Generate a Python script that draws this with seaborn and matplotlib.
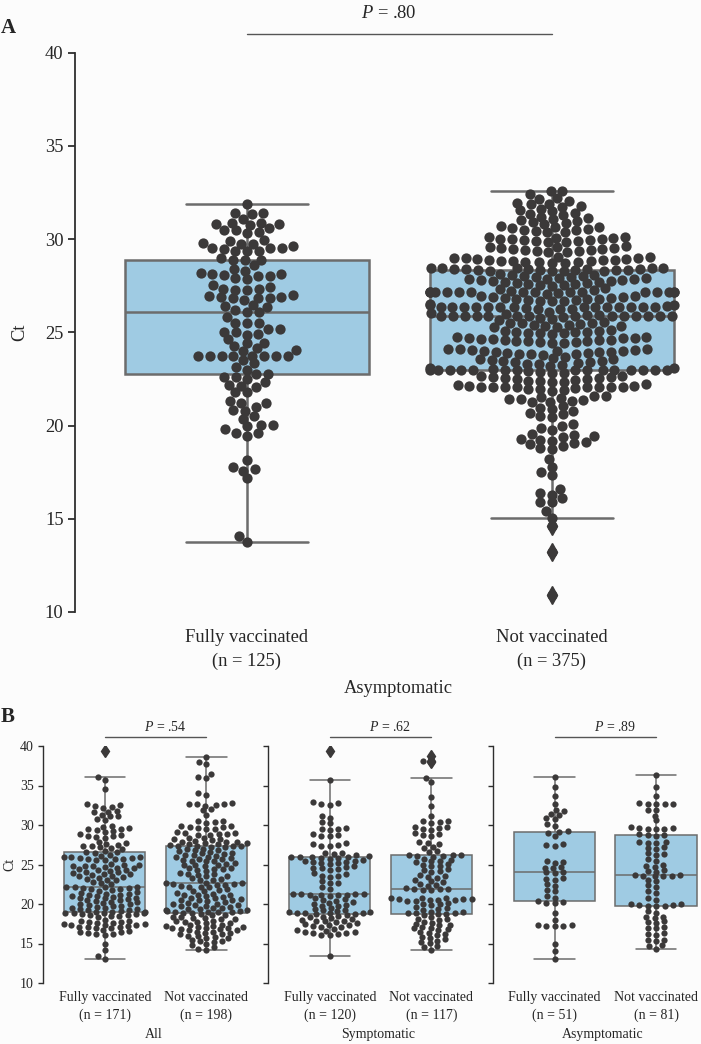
import warnings
warnings.filterwarnings("ignore")
import numpy as np
import pandas as pd
import matplotlib
matplotlib.use("Agg")
import matplotlib.pyplot as plt
import seaborn as sns

# ---------------- data (Ct values) ----------------
GROUPS = ["Fully vaccinated", "Not vaccinated"]

# Panel A (n = 125 / n = 375)
a_fully = [31.86,
           31.41, 31.38, 31.32,
           31.06, 30.88, 30.88, 30.79, 30.79, 30.74, 30.57, 30.49, 30.49, 30.38, 30.34,
           29.93, 29.90, 29.81, 29.75, 29.72, 29.63, 29.54, 29.54, 29.50, 29.49, 29.36, 29.36, 29.36,
           28.97, 28.90, 28.88, 28.86, 28.59, 28.38, 28.29,
           28.20, 28.15, 28.11, 28.08, 28.02, 27.99, 27.93, 27.88,
           27.52, 27.40, 27.31, 27.31, 27.25, 27.25, 26.99, 26.95, 26.91, 26.90, 26.82, 26.82, 26.82, 26.74,
           26.45, 26.41, 26.38, 26.20, 26.09, 26.09,
           25.83, 25.52, 25.52, 25.52,
           25.20, 25.16, 25.02, 24.99, 24.93, 24.84, 24.63,
           24.45, 24.40, 24.27, 24.13,
           24.06, 24.00, 23.75, 23.75, 23.75, 23.75, 23.75, 23.75, 23.75, 23.75, 23.50,
           23.33, 23.11, 22.99, 22.75, 22.75, 22.61, 22.61, 22.49,
           22.31, 22.18, 22.13, 22.04, 21.77, 21.77,
           21.33, 21.18, 21.18, 20.97, 20.83,
           20.79, 20.52, 20.37,
           20.02, 20.02, 19.98, 19.80, 19.62, 19.62, 19.45,
           18.16,
           17.79, 17.66, 17.57, 17.18,
           14.09, 13.77]

a_not = [32.57, 32.55, 32.40,
         32.20, 32.15, 32.05, 31.95, 31.90, 31.85, 31.75, 31.70, 31.62, 31.55, 31.50,
         31.40, 31.35, 31.28, 31.20, 31.15, 31.08, 31.00, 30.95, 30.90, 30.85, 30.80,
         30.70, 30.66, 30.62, 30.58, 30.55, 30.50, 30.46, 30.42, 30.38, 30.35,
         30.12, 30.10, 30.08, 30.05, 30.02, 30.00, 29.98, 29.95, 29.92, 29.90, 29.88, 29.85, 29.82,
         29.62, 29.58, 29.55, 29.52, 29.50, 29.47, 29.45, 29.42, 29.40, 29.37, 29.35, 29.32, 29.30,
         29.05, 29.03, 29.00, 28.98, 28.96, 28.94, 28.92, 28.90, 28.88, 28.86, 28.84, 28.82, 28.80,
         28.78, 28.76, 28.74, 28.72, 28.70,
         28.46, 28.45, 28.44, 28.43, 28.42, 28.41, 28.40, 28.39, 28.38, 28.37, 28.36, 28.35, 28.34,
         28.33, 28.32, 28.31, 28.30, 28.29, 28.28,
         28.10, 28.08, 28.05, 28.03, 28.00, 27.98, 27.95, 27.93, 27.90, 27.88, 27.85, 27.83, 27.80,
         27.78, 27.75, 27.73, 27.70, 27.68, 27.65, 27.63, 27.60, 27.58, 27.55, 27.53, 27.50,
         27.35, 27.30, 27.25, 27.20, *([27.15] * 16), 27.10, 27.05,
         26.95, 26.93, 26.90, 26.88, 26.85, 26.83, 26.80, 26.78, 26.76, 26.74, 26.72, 26.70, 26.69, 26.68,
         26.50, 26.47, 26.44, 26.41, *([26.35] * 14), 26.30, 26.27, 26.25, 26.23,
         26.10, 26.05, 26.00, 25.95, 25.90, *([25.85] * 14), 25.80, 25.75, 25.70, 25.65,
         25.55, 25.52, 25.50, 25.47, 25.44, 25.41, 25.38, 25.35, 25.32, 25.29, 25.26,
         25.10, 25.08, 25.06, 25.04, 25.02, 25.00, 24.98, 24.96, 24.94, 24.92,
         24.75, 24.73, 24.71, 24.69, 24.67, 24.65, 24.63, 24.61, 24.59, 24.57, 24.55, 24.53, 24.51,
         24.49, 24.47, 24.45, 24.43,
         24.12, 24.10, 24.08, 24.06, 24.04, 24.02, 24.00, 23.98, 23.96, 23.94, 23.92, 23.90, 23.88,
         23.86, 23.84, 23.82, 23.80,
         23.65, 23.61, 23.58, 23.55, 23.51, 23.48, 23.45, 23.41, 23.38, 23.35, 23.31, 23.28, 23.25, 23.21,
         23.10, 23.07, 23.04, 23.00, *([22.95] * 14), 22.90, 22.87, 22.84, 22.80,
         22.68, 22.65, 22.62, 22.59, 22.56, 22.53, 22.50, 22.47, 22.44, 22.41, 22.38, 22.35, 22.32,
         22.20, 22.17, 22.14, 22.10, *([22.05] * 8), 22.00, 21.97, 21.94, 21.90, 21.87,
         21.60, 21.56, 21.52, 21.48, 21.44, 21.40, 21.36, 21.32, 21.28, 21.24,
         21.05, 20.96, 20.87, 20.78, 20.69, 20.60, 20.51, 20.43,
         20.08, 19.98, 19.88, 19.75,
         19.54, 19.48, 19.42, 19.36, 19.30, 19.24, 19.18, 19.12, 19.06, 19.00, 18.90, 18.82, 18.74,
         18.20, 17.80, 17.50, 17.35, 16.60, 16.40, 16.30, 16.10, 15.90, 15.88, 15.40, 15.05,
         14.60, 13.20, 10.90]

# Panel B - All (n = 171 / n = 198)
b_all_fully = [39.4, 36.1, 35.7, 34.6, 32.6, 32.5, 32.4, 32.3, 32.2, 31.8, 31.7, 31.6,
               31.3, 31.2, 31.1, 30.8, 30.6,
               29.85, 29.75, 29.65, 29.55, 29.45, 29.35, 29.25, 29.15,
               28.85, 28.75, 28.65, 28.55, 28.45, 28.35,
               27.8, 27.7, 27.6, 27.5, 27.4, 27.3, 27.2, 27.1, 27.0,
               26.7, 26.6, 26.55, 26.5,
               26.2, 26.1, 26.0, 25.95, 25.9, 25.85, 25.8, 25.75, 25.7, 25.65, 25.6, 25.55,
               25.1, 25.0, 24.9, 24.85, 24.8, 24.75, 24.7, 24.6, 24.5,
               24.4, 24.3, 24.25, 24.2, 24.1, 24.0, 23.9, 23.8, 23.75, 23.7, 23.6, 23.5,
               23.4, 23.3, 23.2, 23.1, 23.0, 22.8, 22.65, 22.5,
               22.2, 22.2, 22.15, 22.1, 22.05, 22.0, 21.95, 21.85, 21.75, 21.65,
               21.5, 21.4, 21.3, 21.25, 21.2, 21.1, 21.0, 20.95, 20.9, 20.8, 20.75, 20.7, 20.6,
               20.5, 20.45, 20.35, 20.3, 20.2, 20.1, 20.0, 19.95, 19.85, 19.8, 19.7, 19.65,
               19.55, 19.5, 19.4, 19.35, 19.3, 19.2,
               19.1, 19.05, 19.0, 18.95, 18.9, 18.9, 18.85, 18.8, 18.75, 18.7,
               18.6, 18.55, 18.5, 18.45, 18.4, 18.0, 17.9, 17.8, 17.75, 17.7,
               17.6, 17.55, 17.5, 17.45, 17.4, 17.35, 17.3, 17.2, 17.15, 17.1, 17.05, 17.0, 16.95,
               16.7, 16.6, 16.5, 16.4, 16.3, 16.2, 16.15, 16.1,
               15.0, 14.2, 13.4, 13.08]
b_all_not = [38.56, 38.0, 37.7, 36.4, 36.1, 35.9, 34.0, 33.8,
             32.8, 32.7, 32.65, 32.6, 32.5, 32.45, 32.0, 31.85, 31.3,
             30.5, 30.45, 30.35, 30.3, 29.9, 29.85, 29.75, 29.7, 29.65, 29.55, 29.5,
             29.1, 29.0, 28.95, 28.9, 28.85, 28.75, 28.7, 28.4, 28.3, 28.25, 28.2, 28.1, 28.0,
             27.9, 27.85, 27.8, 27.75, 27.7, 27.6, 27.55, 27.5,
             27.4, 27.35, 27.3, 27.3, 27.25, 27.2,
             27.0, 26.95, 26.85, 26.8, 26.7, 26.6,
             26.5, 26.4, 26.3, 26.25, 26.2, 26.1, 26.0, 25.95,
             25.85, 25.75, 25.7, 25.6, 25.5, 25.45, 25.4,
             25.2, 25.1, 25.0, 24.95, 24.9, 24.8, 24.6, 24.5, 24.45, 24.4, 24.3, 24.2,
             23.95, 23.85, 23.75, 23.7, 23.6, 23.5, 23.3, 23.2, 23.1, 23.0,
             22.65, 22.6, 22.6, 22.55, 22.5, 22.45, 22.4,
             22.3, 22.2, 22.15, 22.1, 21.85, 21.75, 21.65, 21.6,
             21.4, 21.3, 21.2, 21.15, 21.1, 21.0,
             20.85, 20.75, 20.7, 20.6, 20.55, 20.5, 20.45, 20.4,
             20.2, 20.1, 20.05, 20.0, 19.9, 19.85, 19.8, 19.7, 19.6, 19.55, 19.5, 19.4, 19.35,
             19.25, 19.2, 19.15, 19.1, 19.05, 19.05, 19.0, 18.95, 18.9, 18.85,
             18.7, 18.6, 18.55, 18.4, 18.3, 18.25, 18.2, 18.1, 18.05,
             17.9, 17.8, 17.75, 17.7, 17.6, 17.55, 17.4, 17.3, 17.25, 17.2, 17.15, 17.1, 17.0,
             16.95, 16.9, 16.85, 16.8, 16.7, 16.65, 16.5, 16.4, 16.35, 16.3, 16.2, 16.15,
             16.0, 15.9, 15.8, 15.75, 15.7, 15.45, 15.35, 15.3, 15.2,
             14.9, 14.75, 14.5, 14.35, 14.18]

# Panel B - Symptomatic (n = 120 / n = 117)
b_sym_fully = [39.4, 35.65, 32.85, 32.75, 32.65, 32.55, 31.1, 30.9, 30.4, 30.2,
               29.65, 29.55, 29.45, 29.35, 28.85, 28.75, 28.65, 28.55,
               27.7, 27.6, 27.5, 27.4, 27.3, 26.5, 26.4, 26.3, 26.2,
               26.05, 26.0, 25.95, 25.9, 25.9, 25.85, 25.8, 25.75,
               25.6, 25.5, 25.4, 25.35, 25.3, 25.2, 25.15, 25.1,
               24.8, 24.7, 24.55, 24.5, 24.4, 24.3, 23.9, 23.75, 23.6, 23.5, 23.4,
               22.9, 22.7, 22.6, 22.1, 21.95,
               21.3, 21.3, 21.25, 21.25, 21.2, 21.2, 21.15, 21.1, 21.05,
               20.7, 20.6, 20.5, 20.4, 20.3, 20.1, 20.0, 19.9, 19.8, 19.75,
               19.5, 19.4, 19.3, 19.2, 19.1,
               19.0, 18.95, 18.9, 18.85, 18.8, 18.8, 18.75, 18.7, 18.65,
               18.5, 18.4, 18.3, 18.2, 18.15, 18.0, 17.9, 17.85, 17.8, 17.7, 17.6,
               17.45, 17.4, 17.3, 17.2, 17.15, 17.1, 16.8, 16.7, 16.6, 16.5, 16.45,
               16.35, 16.3, 16.2, 16.1, 16.05, 13.42]
b_sym_not = [38.7, 38.05, 37.95, 36.0, 35.5, 33.6, 32.4, 31.1,
             30.55, 30.45, 30.35, 30.3, 29.8, 29.7, 29.6, 29.5, 29.4,
             29.0, 28.9, 28.75, 28.65, 27.85, 27.7, 27.6, 27.2, 27.05, 26.7, 26.55,
             26.25, 26.2, 26.15, 26.1, 26.05, 26.0,
             25.7, 25.6, 25.5, 25.4, 25.3, 25.05, 24.95, 24.85, 24.75,
             24.4, 24.3, 24.15, 24.05, 23.7, 23.55, 23.45, 23.35,
             23.05, 22.9, 22.8, 22.55, 22.4, 22.3,
             22.05, 21.95, 21.9, 21.85, 21.8, 21.75,
             20.8, 20.75, 20.7, 20.65, 20.6, 20.6, 20.55, 20.5, 20.45, 20.4, 20.35,
             20.15, 20.05, 19.95, 19.85, 19.6, 19.45, 19.35, 19.25,
             19.05, 19.0, 18.9, 18.85, 18.8, 18.75, 18.7, 18.65,
             18.3, 18.15, 18.05, 17.95, 17.7, 17.6, 17.5, 17.4, 17.3,
             17.1, 17.0, 16.9, 16.8, 16.7, 16.5, 16.35, 16.25, 16.1,
             15.85, 15.7, 15.55, 15.35, 15.2, 15.05, 14.7, 14.5, 14.22]

# Panel B - Asymptomatic (n = 51 / n = 81)
b_asym_fully = [36.12, 34.77, 33.67, 32.6, 31.85, 31.75, 31.35, 31.25, 30.85, 30.75,
                30.1, 29.9, 29.2, 29.1, 29.0, 28.6, 27.6, 27.5, 27.4,
                25.4, 25.3, 25.2, 24.7, 24.6, 24.5, 24.1, 24.0, 23.9,
                23.3, 23.2, 23.1, 22.5, 22.3, 21.8, 21.6, 21.0, 20.8,
                20.35, 20.3, 20.15, 20.1, 18.8, 18.0,
                17.3, 17.28, 17.26, 17.24, 17.22, 15.0, 14.0, 13.08]
b_asym_not = [36.33, 34.86, 33.67, 32.75, 32.72, 32.7, 32.68, 32.65, 31.95, 31.85,
              31.2, 30.6, 29.7, 29.65, 29.6, 29.55, 29.5, 29.45,
              28.8, 28.75, 28.7, 28.65, 27.9, 27.8, 27.75, 27.7, 27.2, 27.1, 27.0,
              26.4, 26.3, 26.2, 25.7, 25.5, 24.9, 24.8, 24.7, 24.3, 24.2, 24.1,
              23.65, 23.65, 23.6, 23.6, 23.55, 23.5, 23.1, 22.9, 22.4, 22.2,
              21.6, 21.4, 20.7, 20.5,
              20.0, 19.95, 19.9, 19.85, 19.8, 19.8, 19.8, 19.1, 18.9,
              18.4, 18.3, 18.2, 17.8, 17.7, 17.6, 17.1, 17.0, 16.9,
              16.3, 16.2, 16.1, 15.5, 15.4, 15.3, 14.75, 14.65, 14.35]

N_A = ["(n = 125)", "(n = 375)"]
N_B = [["(n = 171)", "(n = 198)"], ["(n = 120)", "(n = 117)"], ["(n = 51)", "(n = 81)"]]
SUBSETS_B = ["All", "Symptomatic", "Asymptomatic"]
P_A = ".80"
P_B = [".54", ".62", ".89"]

# ---------------- style ----------------
sns.set_theme(style="ticks")
plt.rcParams["font.family"] = ["Liberation Serif", "DejaVu Serif"]
plt.rcParams["mathtext.fontset"] = "custom"
plt.rcParams["mathtext.it"] = "Liberation Serif:italic"
plt.rcParams["mathtext.rm"] = "Liberation Serif"

BG = "#fcfcfc"
BOX = "#9fcbe3"
LINE = "#6c6c6c"
PT = "#3b3939"
SPINE = "#2e2e2e"
YLIM = (10, 40)


def panel(ax, fully, notv, nlabels, xlabel, ptxt, pt_size, lw, fs, flsize,
          xlim, tick_pad, linesp, xlabel_xy, ylab_x, show_ylabels, ptext_xy, pline_y,
          spine_lw, ticklen, fx, fy):
    df = pd.DataFrame({"Status": [GROUPS[0]] * len(fully) + [GROUPS[1]] * len(notv),
                       "Ct": np.concatenate([np.asarray(fully, float), np.asarray(notv, float)])})
    sns.boxplot(data=df, x="Status", y="Ct", order=GROUPS, color=BOX, saturation=1,
                linecolor=LINE, linewidth=lw, width=0.8, fliersize=flsize,
                flierprops=dict(marker="d", markerfacecolor=PT, markeredgecolor=PT),
                ax=ax)
    # swarm laid out on a slightly different aspect, then frozen (as in the original figure)
    before = set(id(c) for c in ax.collections)
    xc, xr = 0.5 * (xlim[0] + xlim[1]), xlim[1] - xlim[0]
    ax.set_xlim(xc - fx * xr / 2, xc + fx * xr / 2)
    ax.set_ylim(YLIM[0], YLIM[0] + fy * (YLIM[1] - YLIM[0]))
    sns.swarmplot(data=df, x="Status", y="Ct", order=GROUPS, color=PT, size=pt_size,
                  ax=ax, zorder=3, linewidth=0)
    ax.set_xlim(xc - fx * xr / 2, xc + fx * xr / 2)
    ax.figure.canvas.draw()
    for c in ax.collections:
        if id(c) not in before and "draw" in c.__dict__:
            del c.draw
    ax.set_facecolor("none")
    ax.set_xlim(*xlim)
    ax.set_ylim(*YLIM)
    ax.set_yticks([10, 15, 20, 25, 30, 35, 40])
    ax.set_xticks([0, 1])
    ax.set_xticklabels([f"{g}\n{n}" for g, n in zip(GROUPS, nlabels)], fontsize=fs,
                       linespacing=linesp)
    ax.tick_params(axis="x", length=0, pad=tick_pad)
    ax.tick_params(axis="y", length=ticklen, width=spine_lw, color=SPINE, labelsize=fs, pad=3)
    if not show_ylabels:
        ax.set_yticklabels([])
    sns.despine(ax=ax, bottom=True)
    ax.spines["left"].set_linewidth(spine_lw)
    ax.spines["left"].set_color(SPINE)
    ax.set_xlabel(xlabel, fontsize=fs)
    ax.xaxis.set_label_coords(*xlabel_xy)
    ax.xaxis.label.set_va("center")
    if ylab_x is not None:
        ax.set_ylabel("Ct", fontsize=fs)
        ax.yaxis.set_label_coords(ylab_x, 0.5)
        ax.yaxis.label.set_va("center")
    else:
        ax.set_ylabel("")
    ax.plot([0, 1], [pline_y, pline_y], color="#555555", lw=1.0, clip_on=False)
    ax.text(ptext_xy[0], ptext_xy[1], r"$P$" + " = " + ptxt, ha="center", va="center",
            fontsize=fs, clip_on=False)


W, H = 701, 1044
fig = plt.figure(figsize=(W / 100, H / 100), dpi=100)
fig.patch.set_facecolor(BG)

axA = fig.add_axes([74.6 / W, (H - 612) / H, 626.4 / W, 559.5 / H])
panel(axA, a_fully, a_not, N_A, "Asymptomatic", P_A,
      pt_size=7.4, lw=1.8, fs=13.3, flsize=9, xlim=(-0.565, 1.489), tick_pad=12,
      linesp=1.5, xlabel_xy=(0.516, -0.1376), ylab_x=-0.0872, show_ylabels=True,
      ptext_xy=(0.464, 42.1), pline_y=41.0, spine_lw=1.3, ticklen=5, fx=1.1, fy=0.75)

lefts = [43, 268, 492.7]
data_b = [(b_all_fully, b_all_not), (b_sym_fully, b_sym_not), (b_asym_fully, b_asym_not)]
for i, (left, (f, nv)) in enumerate(zip(lefts, data_b)):
    ax = fig.add_axes([left / W, (H - 983) / H, 208 / W, 237 / H])
    panel(ax, f, nv, N_B[i], SUBSETS_B[i], P_B[i],
          pt_size=4.5, lw=1.1, fs=10, flsize=6, xlim=(-0.61, 1.44), tick_pad=6,
          linesp=1.45, xlabel_xy=(0.53, -0.219), ylab_x=(-0.159 if i == 0 else None),
          show_ylabels=(i == 0), ptext_xy=(0.594, 42.44), pline_y=41.1, spine_lw=1.0,
          ticklen=3.5, fx=1.3, fy=0.77)

fig.text(1 / W, 1 - 28 / H, "A", fontsize=15, fontweight="bold", va="center", ha="left")
fig.text(1 / W, 1 - 717 / H, "B", fontsize=15, fontweight="bold", va="center", ha="left")

fig.savefig("out.png", dpi=100, facecolor=BG)
